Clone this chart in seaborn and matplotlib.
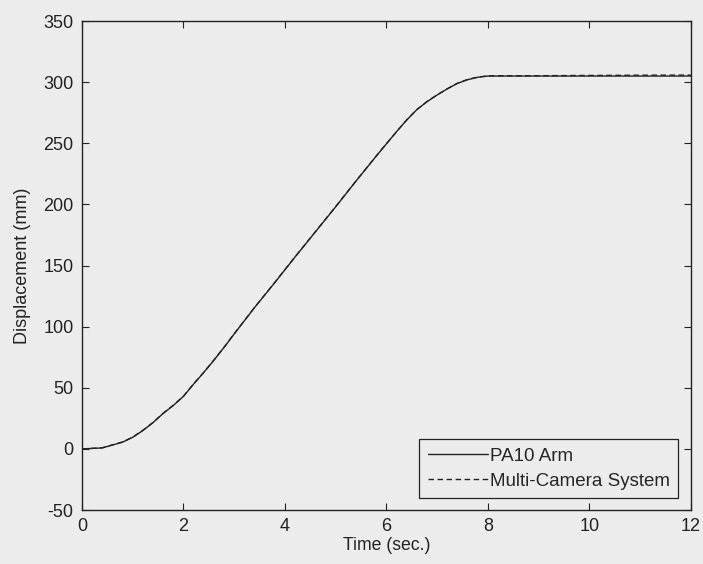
import numpy as np
import pandas as pd
import matplotlib
matplotlib.use("Agg")
import matplotlib.pyplot as plt
import seaborn as sns

# values
time = [0, 0.4, 0.8, 1.0, 1.2, 1.4, 1.6, 1.8, 2.0, 2.2, 2.4, 2.6, 2.8, 3.0, 3.4, 3.8,
        4.2, 4.6, 5.0, 5.4, 5.8, 6.0, 6.2, 6.4, 6.6, 6.8, 7.0, 7.2, 7.4, 7.6, 7.8, 8.0,
        9.0, 10.0, 11.0, 12.0]
pa10_arm = [0, 0.8, 5.5, 9.5, 15, 21.5, 29, 35.5, 43, 53, 62.5, 72.5, 83, 94, 115.5, 136,
            157, 177.5, 198, 219, 239.5, 249.5, 259.5, 269, 277.5, 284, 289.5, 294.5, 299, 302, 304, 305,
            305, 305, 305, 305]
multi_camera = [0, 0.9, 5.7, 9.6, 15.2, 21.6, 29.2, 35.7, 43.1, 53.2, 62.6, 72.7, 83.1, 94.2, 115.6, 136.2,
                157.1, 177.6, 198.2, 219.1, 239.6, 249.6, 259.4, 269.1, 277.6, 284.1, 289.6, 294.6, 299.1, 302.2, 304.1, 305.2,
                305.3, 305.5, 305.7, 305.8]
series_names = ["PA10 Arm", "Multi-Camera System"]

df = pd.DataFrame({"t": time, "arm": pa10_arm, "cam": multi_camera})

bg = "#ececec"
ink = "#222222"
sns.set_style("ticks")
plt.rcParams["font.family"] = ["Liberation Sans", "DejaVu Sans"]
plt.rcParams["axes.unicode_minus"] = False

fig = plt.figure(figsize=(7.03, 5.64), dpi=100, facecolor=bg)
ax = fig.add_axes([0.1166, 0.0957, 0.866, 0.867])
ax.set_facecolor(bg)

sns.lineplot(data=df, x="t", y="arm", ax=ax, color=ink, linewidth=1.0,
             label=series_names[0])
sns.lineplot(data=df, x="t", y="cam", ax=ax, color=ink, linewidth=1.0,
             linestyle=(0, (4, 2.5)), label=series_names[1])

ax.set_xlim(0, 12)
ax.set_ylim(-50, 350)
ax.set_xticks(range(0, 13, 2))
ax.set_yticks(range(-50, 351, 50))
ax.tick_params(direction="in", top=True, right=True, labelsize=13,
               length=5, width=0.8, colors=ink, pad=6)
for sp in ax.spines.values():
    sp.set_visible(True)
    sp.set_color(ink)
    sp.set_linewidth(1.0)

ax.set_xlabel("Time (sec.)", fontsize=12.7, color=ink, labelpad=1)
ax.set_ylabel("Displacement (mm)", fontsize=13, color=ink, labelpad=9)

leg = ax.legend(loc="lower right", bbox_to_anchor=(0.979, 0.0245), borderaxespad=0,
                fontsize=13.5, frameon=True, fancybox=False, handlelength=3.2,
                handletextpad=0.1, labelspacing=0.4, borderpad=0.45)
leg.get_frame().set_edgecolor(ink)
leg.get_frame().set_facecolor(bg)
leg.get_frame().set_alpha(1)
leg.get_frame().set_linewidth(0.9)

fig.savefig("out.png", dpi=100, facecolor=bg)
